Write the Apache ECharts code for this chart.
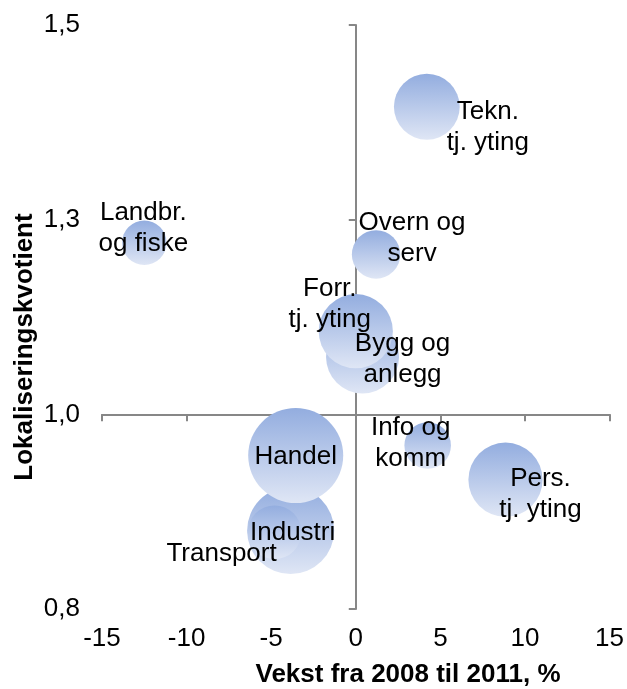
<!DOCTYPE html>
<html>
<head>
<meta charset="utf-8">
<script src="https://cdn.jsdelivr.net/npm/echarts@6/dist/echarts.min.js"></script>
<style>
  html, body { margin: 0; padding: 0; background: #fff; }
  #chart { width: 627px; height: 689px; }
</style>
</head>
<body>
<div id="chart"></div>
<script>
// næringer, tegnet i denne rekkefølgen (siste øverst)
var names = ['Landbr.\nog fiske', 'Tekn.\ntj. yting', 'Overn og\nserv', 'Bygg og\nanlegg', 'Forr.\ntj. yting',
             'Info og\nkomm', 'Pers.\ntj. yting', 'Industri', 'Transport', 'Handel'];
var vekst = [-12.5, 4.2, 1.2, 0.4, 0.0, 4.25, 8.85, -3.85, -4.8, -3.55];      // x, %
var lq    = [1.239, 1.402, 1.225, 1.102, 1.133, 0.996, 0.955, 0.894, 0.892, 0.984]; // y
var size  = [22, 48, 26, 59, 61, 24, 61, 84, 32, 100];                        // boblestørrelse

// hvor etiketten står i forhold til boblen (px)
var labelOffset = [[-1, -14], [61, 21], [36, -16], [40, 2], [-26, -27],
                   [-17, -2], [35, 15], [2, 2], [-53, 22], [0, 1]];

var yMin = 0.8, yMax = 1.5;
var step = (yMax - yMin) / 3;
var base = yMin + step; // der x-aksen krysser

var font = 'Liberation Sans, Arial, sans-serif';
var axisColor = '#878787';

var myChart = echarts.init(document.getElementById('chart'));

var data = names.map(function (n, i) {
    return {
        name: n,
        value: [vekst[i], lq[i] - base, size[i]],
        label: { offset: labelOffset[i] }
    };
});

var option = {
    animation: false,
    grid: { left: 102, right: 15, top: 25, bottom: 80 },
    xAxis: [{
        type: 'value', min: -15, max: 15, interval: 5,
        position: 'bottom',
        axisLine: { show: false, onZero: false },
        axisTick: { show: false },
        splitLine: { show: false },
        axisLabel: { fontSize: 26, color: '#000', fontFamily: font, margin: 17 }
    }, {
        type: 'value', min: -15, max: 15, interval: 5,
        position: 'bottom',
        axisLine: { onZero: true, lineStyle: { color: axisColor, width: 2 } },
        axisTick: { show: true, length: 7, lineStyle: { color: axisColor, width: 2 } },
        splitLine: { show: false },
        axisLabel: { show: false }
    }],
    yAxis: [{
        type: 'value', min: -step, max: 2 * step, interval: step,
        position: 'left',
        axisLine: { show: false, onZero: false },
        axisTick: { show: false },
        splitLine: { show: false },
        axisLabel: {
            fontSize: 26, color: '#000', fontFamily: font, margin: 22,
            formatter: function (v) { return (v + base).toFixed(1).replace('.', ','); }
        }
    }, {
        type: 'value', min: -step, max: 2 * step, interval: step,
        position: 'left',
        axisLine: { onZero: true, onZeroAxisIndex: 1, lineStyle: { color: axisColor, width: 2 } },
        axisTick: { show: true, length: 7, lineStyle: { color: axisColor, width: 2 } },
        splitLine: { show: false },
        axisLabel: { show: false }
    }],
    graphic: [{
        type: 'text', x: 408, y: 675,
        style: { text: 'Vekst fra 2008 til 2011, %', font: 'bold 26px ' + font, fill: '#000',
                 textAlign: 'center', textVerticalAlign: 'middle' }
    }, {
        type: 'text', x: 25, y: 347, rotation: Math.PI / 2,
        style: { text: 'Lokaliseringskvotient', font: 'bold 26px ' + font, fill: '#000',
                 textAlign: 'center', textVerticalAlign: 'middle' }
    }],
    series: [{
        type: 'scatter',
        xAxisIndex: 1, yAxisIndex: 1,
        data: data,
        symbolSize: function (val) { return Math.sqrt(val[2]) * 9.5; },
        itemStyle: {
            opacity: 1,
            color: {
                type: 'linear', x: 0, y: 0, x2: 0, y2: 1,
                colorStops: [{ offset: 0, color: '#93ADDF' }, { offset: 1, color: '#DFE6F5' }]
            }
        },
        label: {
            show: true, position: 'inside',
            formatter: function (p) { return p.name; },
            fontSize: 26, lineHeight: 31, color: '#000', fontFamily: font,
            textBorderWidth: 0,
            align: 'center', verticalAlign: 'middle'
        }
    }]
};

myChart.setOption(option);
</script>
</body>
</html>
